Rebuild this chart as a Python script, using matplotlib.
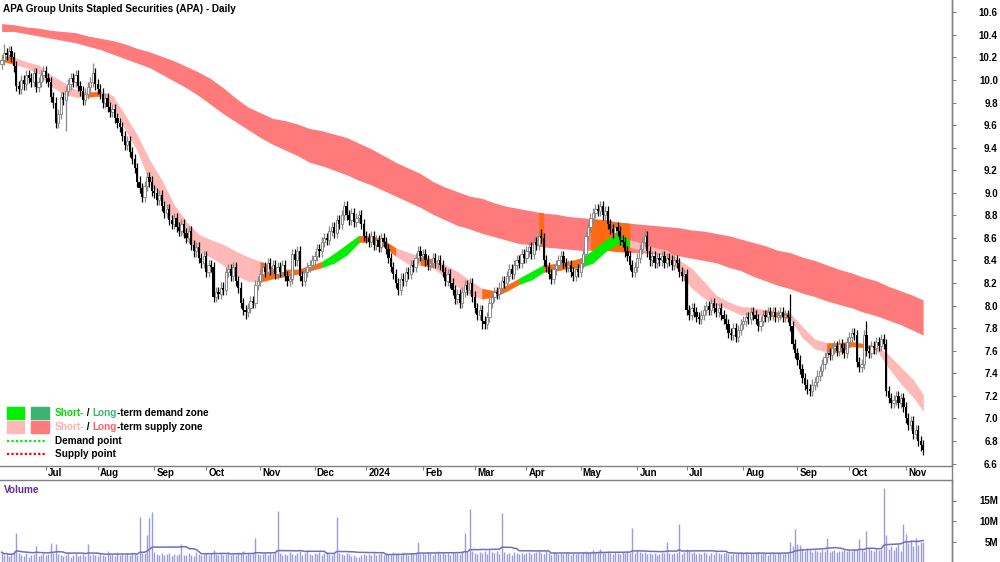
import matplotlib
matplotlib.use("Agg")
import matplotlib.pyplot as plt
import matplotlib.transforms as mtransforms
from matplotlib.patches import Rectangle
import numpy as np
import pandas as pd

plt.rcParams['font.family'] = ['Liberation Sans', 'DejaVu Sans']
plt.rcParams['font.weight'] = 'bold'

title = 'APA Group Units Stapled Securities (APA) - Daily'

# trading days shown on the chart
dates = pd.bdate_range('2023-06-07', '2024-11-12')

# daily closes, month by month
jun23 = [10.18, 10.24, 10.22, 10.26, 10.20, 10.12, 9.95, 9.92, 10.00, 9.96, 10.04, 10.02, 9.98, 10.06, 9.94, 9.98, 10.04, 10.08]
jul23 = [10.02, 9.98, 9.85, 9.80, 9.62, 9.70, 9.85, 9.82, 9.90, 9.96, 10.02, 9.98, 10.04, 9.95, 9.90, 9.82, 9.88, 9.94, 9.98, 10.06, 9.96]
aug23 = [9.92, 9.88, 9.80, 9.84, 9.76, 9.72, 9.74, 9.66, 9.62, 9.58, 9.50, 9.42, 9.46, 9.36, 9.30, 9.22, 9.10, 9.04, 8.96, 9.06, 9.14, 9.10, 9.02]
sep23 = [9.00, 8.94, 8.98, 8.88, 8.82, 8.86, 8.76, 8.72, 8.78, 8.70, 8.66, 8.72, 8.64, 8.60, 8.66, 8.54, 8.48, 8.52, 8.42, 8.38, 8.44]
oct23 = [8.30, 8.36, 8.34, 8.08, 8.12, 8.10, 8.16, 8.14, 8.30, 8.32, 8.26, 8.34, 8.22, 8.16, 8.02, 7.96, 7.94, 7.98, 8.04, 8.02, 8.18, 8.22]
nov23 = [8.28, 8.34, 8.30, 8.38, 8.32, 8.36, 8.28, 8.34, 8.30, 8.36, 8.26, 8.22, 8.24, 8.46, 8.40, 8.48, 8.26, 8.22, 8.30, 8.34, 8.36, 8.40]
dec23 = [8.44, 8.50, 8.48, 8.56, 8.60, 8.58, 8.66, 8.70, 8.64, 8.76, 8.72, 8.80, 8.88, 8.80, 8.76, 8.82, 8.74, 8.78, 8.80, 8.72, 8.62]
jan24 = [8.60, 8.56, 8.62, 8.54, 8.58, 8.52, 8.60, 8.56, 8.50, 8.42, 8.34, 8.28, 8.20, 8.14, 8.24, 8.22, 8.30, 8.28, 8.36, 8.34, 8.42, 8.48, 8.44]
feb24 = [8.46, 8.40, 8.36, 8.38, 8.42, 8.38, 8.40, 8.36, 8.30, 8.22, 8.28, 8.20, 8.14, 8.06, 8.10, 8.02, 8.12, 8.18, 8.14, 8.20, 8.08]
mar24 = [7.98, 7.92, 7.96, 7.86, 7.84, 7.90, 8.02, 8.08, 8.12, 8.10, 8.16, 8.22, 8.20, 8.26, 8.32, 8.28, 8.36, 8.40, 8.38, 8.46, 8.42]
apr24 = [8.48, 8.52, 8.46, 8.56, 8.54, 8.62, 8.60, 8.40, 8.34, 8.28, 8.24, 8.32, 8.36, 8.40, 8.44, 8.38, 8.34, 8.36, 8.30, 8.26, 8.32, 8.30]
may24 = [8.38, 8.46, 8.62, 8.70, 8.78, 8.82, 8.86, 8.84, 8.88, 8.80, 8.84, 8.72, 8.68, 8.64, 8.70, 8.66, 8.58, 8.56, 8.48, 8.44, 8.36, 8.30, 8.34]
jun24 = [8.42, 8.50, 8.56, 8.62, 8.48, 8.40, 8.44, 8.38, 8.42, 8.40, 8.44, 8.38, 8.42, 8.40, 8.36, 8.40, 8.38, 8.30, 8.26, 8.28]
jul24 = [7.96, 7.92, 7.98, 7.94, 7.90, 7.88, 7.92, 7.96, 8.00, 7.96, 8.02, 7.98, 7.94, 7.98, 7.92, 7.88, 7.84, 7.76, 7.74, 7.80, 7.72, 7.78, 7.84]
aug24 = [7.86, 7.90, 7.88, 7.94, 7.92, 7.88, 7.82, 7.86, 7.92, 7.90, 7.94, 7.92, 7.94, 7.90, 7.92, 7.94, 7.90, 7.92, 7.90, 7.82, 7.66, 7.58]
sep24 = [7.52, 7.44, 7.36, 7.30, 7.26, 7.24, 7.30, 7.32, 7.38, 7.42, 7.48, 7.54, 7.58, 7.56, 7.62, 7.64, 7.60, 7.66, 7.62, 7.58, 7.68]
oct24 = [7.72, 7.76, 7.74, 7.50, 7.46, 7.48, 7.74, 7.60, 7.58, 7.64, 7.62, 7.68, 7.64, 7.70, 7.66, 7.24, 7.18, 7.14, 7.16, 7.20, 7.14, 7.18, 7.10]
nov24 = [7.00, 6.94, 6.98, 6.86, 6.90, 6.80, 6.76, 6.72]

# notable wicks
high_marks = {'2023-06-08': 10.32, '2023-07-28': 10.15, '2023-12-19': 8.92, '2024-04-09': 8.68,
              '2024-05-13': 8.92, '2024-06-06': 8.68, '2024-08-28': 8.10, '2024-10-10': 7.86}
low_marks = {'2023-07-13': 9.55, '2023-10-24': 7.88, '2024-03-06': 7.79, '2024-09-09': 7.20,
             '2024-11-12': 6.68}

# daily volume, millions
vol_jun23 = [2.4, 1.6, 2.2, 1.4, 1.9, 2.6, 7.0, 2.1, 1.7, 1.5, 2.3, 1.3, 1.8, 2.0, 4.0, 1.5, 1.7, 2.1]
vol_jul23 = [1.6, 1.9, 4.6, 2.2, 4.3, 2.0, 1.6, 1.4, 1.8, 2.4, 1.3, 1.7, 2.1, 1.5, 1.8, 1.9, 1.4, 4.4, 1.6, 2.0, 1.7]
vol_aug23 = [1.5, 2.2, 1.8, 1.4, 2.7, 1.6, 2.0, 1.5, 2.4, 1.7, 1.9, 1.6, 2.1, 1.8, 2.5, 2.0, 1.8, 11.0, 2.1, 2.2, 6.6, 10.7, 12.2]
vol_sep23 = [2.5, 2.0, 1.8, 2.3, 1.7, 1.9, 2.2, 1.5, 2.0, 1.8, 1.9, 4.5, 1.7, 1.6, 2.1, 1.8, 1.5, 2.4, 2.0, 1.7, 1.9]
vol_oct23 = [2.3, 1.8, 2.1, 2.9, 2.0, 1.7, 2.2, 1.6, 1.9, 2.5, 1.8, 2.0, 1.7, 2.4, 2.1, 2.6, 1.8, 2.2, 1.9, 2.3, 5.8, 2.0]
vol_nov23 = [1.8, 2.0, 2.3, 1.7, 2.1, 1.9, 2.5, 12.4, 2.2, 1.7, 2.0, 1.8, 2.4, 1.9, 1.6, 2.2, 2.8, 1.7, 2.1, 3.0, 1.9, 1.8]
vol_dec23 = [2.2, 1.9, 2.5, 1.7, 2.1, 2.4, 2.0, 1.8, 2.3, 11.0, 2.1, 1.9, 1.6, 2.2, 2.0, 1.5, 1.8, 1.3, 1.1, 1.7, 1.9]
vol_jan24 = [1.6, 2.0, 1.8, 2.2, 1.7, 1.9, 2.1, 1.8, 2.3, 2.0, 1.7, 2.5, 1.9, 2.2, 1.8, 2.4, 2.0, 1.7, 2.3, 1.9, 2.1, 4.9, 2.0]
vol_feb24 = [2.2, 1.9, 2.5, 2.1, 1.8, 2.3, 2.7, 2.0, 2.4, 1.9, 2.2, 1.8, 2.5, 2.1, 2.3, 2.0, 2.6, 7.0, 2.4, 13.0, 2.7]
vol_mar24 = [2.3, 2.0, 2.5, 2.2, 2.8, 2.0, 2.9, 2.4, 2.1, 2.6, 1.9, 12.0, 2.5, 2.0, 2.2, 1.8, 2.4, 2.1, 1.9, 2.3, 2.0]
vol_apr24 = [2.1, 2.4, 1.9, 2.2, 2.5, 2.8, 2.3, 2.0, 2.6, 2.1, 1.8, 2.4, 2.2, 1.9, 2.3, 2.0, 2.5, 2.1, 1.8, 2.2, 1.9, 2.3]
vol_may24 = [2.0, 2.4, 2.7, 2.2, 2.5, 3.0, 2.3, 2.8, 3.2, 2.4, 2.1, 2.6, 2.3, 2.0, 2.5, 2.2, 1.9, 2.4, 2.1, 2.7, 2.2, 8.2, 2.3]
vol_jun24 = [2.9, 2.4, 2.1, 2.5, 2.0, 2.3, 1.9, 2.2, 1.8, 2.0, 2.4, 2.1, 5.0, 2.2, 1.9, 2.3, 2.1, 9.2, 2.0, 2.5]
vol_jul24 = [3.2, 2.7, 2.3, 2.5, 2.0, 2.2, 1.9, 2.4, 2.1, 1.8, 2.3, 2.0, 2.5, 2.2, 1.9, 2.1, 2.4, 2.0, 1.7, 2.3, 1.9, 2.2, 2.5]
vol_aug24 = [2.1, 2.4, 2.0, 2.3, 1.9, 2.2, 2.5, 2.0, 2.3, 2.1, 1.8, 2.2, 2.4, 1.9, 2.1, 2.3, 2.0, 2.5, 2.2, 5.0, 3.8, 8.0]
vol_sep24 = [4.4, 4.2, 3.1, 2.6, 3.3, 2.9, 2.5, 3.0, 2.7, 2.4, 2.9, 2.6, 5.8, 2.4, 2.7, 3.0, 2.5, 2.8, 2.6, 2.9, 2.7]
vol_oct24 = [3.0, 2.7, 3.2, 2.9, 5.7, 3.1, 2.6, 7.5, 3.3, 3.0, 2.7, 3.3, 2.9, 3.1, 18.1, 6.5, 3.2, 4.0, 3.0, 3.6, 4.4, 2.8, 9.2]
vol_nov24 = [6.9, 4.6, 5.3, 3.9, 5.9, 4.2, 4.8, 5.0]

# zone bands, read every 5th trading day
band_pos = list(range(0, 375, 5)) + [374]
long_top = [10.50, 10.49, 10.47, 10.46, 10.44, 10.43, 10.42, 10.39, 10.37, 10.35,
            10.32, 10.28, 10.25, 10.21, 10.17, 10.12, 10.07, 10.01, 9.93, 9.84,
            9.76, 9.71, 9.66, 9.64, 9.61, 9.57, 9.55, 9.52, 9.49, 9.44,
            9.39, 9.33, 9.27, 9.22, 9.17, 9.10, 9.05, 9.01, 8.97, 8.95,
            8.91, 8.88, 8.86, 8.84, 8.82, 8.81, 8.79, 8.78, 8.77, 8.76,
            8.74, 8.73, 8.72, 8.71, 8.70, 8.69, 8.67, 8.66, 8.64, 8.62,
            8.59, 8.56, 8.53, 8.49, 8.47, 8.43, 8.40, 8.36, 8.32, 8.29,
            8.25, 8.22, 8.17, 8.13, 8.09, 8.05]
long_bot = [10.43, 10.43, 10.41, 10.39, 10.37, 10.35, 10.33, 10.30, 10.27, 10.23,
            10.19, 10.15, 10.11, 10.05, 9.99, 9.93, 9.86, 9.78, 9.70, 9.63,
            9.56, 9.49, 9.43, 9.38, 9.33, 9.27, 9.24, 9.20, 9.16, 9.11,
            9.07, 9.02, 8.97, 8.92, 8.87, 8.81, 8.76, 8.71, 8.68, 8.64,
            8.61, 8.58, 8.55, 8.54, 8.52, 8.51, 8.50, 8.49, 8.49, 8.49,
            8.48, 8.47, 8.47, 8.46, 8.46, 8.44, 8.42, 8.40, 8.38, 8.34,
            8.31, 8.26, 8.22, 8.18, 8.15, 8.11, 8.08, 8.04, 8.01, 7.98,
            7.94, 7.91, 7.87, 7.83, 7.78, 7.74]
short_top = [10.22, 10.20, 10.16, 10.13, 10.04, 9.98, 9.91, 9.89, 9.90, 9.86,
             9.69, 9.51, 9.29, 9.11, 8.89, 8.74, 8.63, 8.58, 8.54, 8.48,
             8.43, 8.39, 8.34, 8.32, 8.32, 8.35, 8.39, 8.46, 8.54, 8.62,
             8.62, 8.58, 8.51, 8.47, 8.43, 8.41, 8.36, 8.30, 8.22, 8.15,
             8.13, 8.18, 8.24, 8.30, 8.36, 8.37, 8.39, 8.42, 8.49, 8.58,
             8.64, 8.58, 8.55, 8.51, 8.49, 8.40, 8.33, 8.21, 8.09, 8.03,
             7.99, 7.98, 7.96, 7.94, 7.93, 7.81, 7.70, 7.67, 7.67, 7.68,
             7.66, 7.64, 7.56, 7.45, 7.34, 7.21]
short_bot = [10.17, 10.14, 10.11, 10.06, 9.95, 9.88, 9.85, 9.85, 9.86, 9.79,
             9.57, 9.38, 9.11, 8.95, 8.74, 8.58, 8.48, 8.43, 8.36, 8.27,
             8.22, 8.21, 8.24, 8.26, 8.28, 8.31, 8.34, 8.38, 8.45, 8.56,
             8.57, 8.53, 8.44, 8.37, 8.36, 8.34, 8.25, 8.17, 8.10, 8.06,
             8.08, 8.13, 8.19, 8.23, 8.30, 8.31, 8.33, 8.34, 8.38, 8.48,
             8.55, 8.52, 8.49, 8.47, 8.44, 8.30, 8.16, 8.07, 8.01, 7.97,
             7.92, 7.92, 7.91, 7.90, 7.89, 7.72, 7.62, 7.59, 7.59, 7.64,
             7.63, 7.61, 7.45, 7.31, 7.19, 7.07]
# S = short-term supply, O = overlap, D = short-term demand
short_state = ("O" + "SSSSSS" + "O" + "SSSSSSSSSSSSS" + "OOOOO" + "DDD" + "OOO" + "SS" + "O"
               + "SSSS" + "OOO" + "DD" + "OOO" + "DDDD" + "SSSSSSSSSSS" + "OO" + "SSS" + "OOOO" + "SSSSS")
long_overlap = [('2024-04-08', '2024-04-10'), ('2024-05-07', '2024-05-29')]

price_ticks = np.round(np.arange(6.6, 10.61, 0.2), 1)
vol_ticks = [5, 10, 15]

closes = np.array(jun23 + jul23 + aug23 + sep23 + oct23 + nov23 + dec23 + jan24 + feb24
                  + mar24 + apr24 + may24 + jun24 + jul24 + aug24 + sep24 + oct24 + nov24)
volume = np.array(vol_jun23 + vol_jul23 + vol_aug23 + vol_sep23 + vol_oct23 + vol_nov23
                  + vol_dec23 + vol_jan24 + vol_feb24 + vol_mar24 + vol_apr24 + vol_may24
                  + vol_jun24 + vol_jul24 + vol_aug24 + vol_sep24 + vol_oct24 + vol_nov24)
n = min(len(dates), len(closes), len(volume))
dates, closes, volume = dates[:n], closes[:n], volume[:n]
x = np.arange(n)

opens = np.concatenate([[closes[0] - 0.04], closes[:-1]])
highs = np.maximum(opens, closes) + 0.045
lows = np.minimum(opens, closes) - 0.045
date_pos = {d.strftime('%Y-%m-%d'): i for i, d in enumerate(dates)}
for d, v in high_marks.items():
    if d in date_pos:
        highs[date_pos[d]] = max(highs[date_pos[d]], v)
for d, v in low_marks.items():
    if d in date_pos:
        lows[date_pos[d]] = min(lows[date_pos[d]], v)

W, H = 1000, 562
fig = plt.figure(figsize=(W / 100, H / 100), dpi=100)
right = 952 / W
ax = fig.add_axes([0, (H - 466) / H, right, 466 / H])
axv = fig.add_axes([0, 0, right, 82 / H])
over = fig.add_axes([0, 0, 1, 1], zorder=10)
over.set_xlim(0, W)
over.set_ylim(H, 0)
over.axis('off')

grey = '#808080'
xlim = (-0.65, -0.65 + 952 / 2.464)

# long-term zone
bx = np.array(band_pos)
ax.fill_between(bx, long_bot, long_top, color='#ff7b7b', lw=0, zorder=1)
for a, b in long_overlap:
    i0, i1 = date_pos.get(a, 0), date_pos.get(b, 0)
    xs = np.arange(i0, i1 + 1)
    ax.fill_between(xs, np.interp(xs, bx, long_bot), np.interp(xs, bx, long_top),
                    color='#ff6a13', lw=0, zorder=1.5)

# short-term zone
state_col = {'S': '#ffb8b8', 'O': '#ff6a13', 'D': '#00ee00'}
for k in range(len(bx) - 1):
    c = state_col[short_state[k]]
    ax.fill_between(bx[k:k + 2], short_bot[k:k + 2], short_top[k:k + 2],
                    color=c, lw=0.4, edgecolor=c, zorder=2)

# candles
up = closes >= opens
blo = np.minimum(opens, closes)
bh = np.maximum(np.abs(closes - opens), 0.012)
ax.vlines(x[up], lows[up], highs[up], color='#8a8a8a', lw=0.9, zorder=3)
ax.vlines(x[~up], lows[~up], highs[~up], color='black', lw=0.9, zorder=3)
ax.bar(x[up], bh[up], bottom=blo[up], width=0.9, facecolor='white', edgecolor='#8a8a8a', lw=0.7, zorder=4)
ax.bar(x[~up], bh[~up], bottom=blo[~up], width=0.9, color='black', lw=0, zorder=4)

ax.set_xlim(*xlim)
ax.set_ylim(6.578, 10.709)
ax.yaxis.tick_right()
ax.set_yticks(price_ticks)
ax.set_yticklabels([f'{v:.1f}' for v in price_ticks])
ax.tick_params(axis='y', direction='out', length=3, color=grey, pad=30, labelsize=7)
for lab in ax.get_yticklabels():
    lab.set_horizontalalignment('right')
    lab.set_fontweight('bold')

# month ticks
month_pos, month_lab = [], []
prev = None
for i, d in enumerate(dates):
    if prev is not None and d.month != prev:
        month_pos.append(i)
        month_lab.append(str(d.year) if d.month == 1 else d.strftime('%b'))
    prev = d.month
ax.set_xticks(month_pos)
ax.set_xticklabels([])
ax.tick_params(axis='x', direction='out', length=3, color=grey)
trans = mtransforms.blended_transform_factory(ax.transData, ax.transAxes)
for p, lab in zip(month_pos, month_lab):
    ax.text(p + 0.9, -0.016, lab, transform=trans, ha='left', va='center',
            fontsize=7, fontweight='bold', clip_on=False)

for s in ['top', 'left']:
    ax.spines[s].set_visible(False)
for s in ['bottom', 'right']:
    ax.spines[s].set_color(grey)
    ax.spines[s].set_linewidth(1)

# volume panel
vcol = '#9c9cdc'
axv.vlines(x, 0, volume, color=vcol, lw=1.0)
vavg = pd.Series(volume).rolling(20, min_periods=1).mean()
axv.plot(x, vavg, color='#6e6ec4', lw=1.1)
axv.set_xlim(*xlim)
axv.set_ylim(0, 20)
axv.yaxis.tick_right()
axv.set_yticks(vol_ticks)
axv.set_yticklabels([f'{v}M' for v in vol_ticks])
axv.tick_params(axis='y', direction='out', length=3, color=grey, pad=30, labelsize=7)
for lab in axv.get_yticklabels():
    lab.set_horizontalalignment('right')
    lab.set_fontweight('bold')
axv.set_xticks([])
for s in ['bottom', 'left']:
    axv.spines[s].set_visible(False)
for s in ['top', 'right']:
    axv.spines[s].set_color(grey)
    axv.spines[s].set_linewidth(1)

over.plot([952, 952], [0, H], color=grey, lw=1)

# title and labels
over.text(3, 9, title, fontsize=7.2, fontweight='bold', va='center', ha='left')
over.text(4, 490, 'Volume', fontsize=7.2, fontweight='bold', va='center', ha='left', color='#5e2d91')

# legend
fig.canvas.draw()
renderer = fig.canvas.get_renderer()


def pieces(x0, y0, parts):
    xx = x0
    for txt, col in parts:
        t = over.text(xx, y0, txt, fontsize=7.2, fontweight='bold', va='center', ha='left', color=col)
        xx += t.get_window_extent(renderer).width


over.add_patch(Rectangle((7, 407), 17, 12, color='#00ee00'))
over.add_patch(Rectangle((31, 407), 18, 12, color='#3cb371'))
over.add_patch(Rectangle((7, 421), 17, 12, color='#ffb8b8'))
over.add_patch(Rectangle((31, 421), 18, 12, color='#ff7b7b'))
over.plot([7, 45], [441, 441], color='#00ee00', lw=1.6, ls=(0, (1, 1)))
over.plot([7, 45], [454, 454], color='#ff0000', lw=1.6, ls=(0, (1, 1)))
pieces(55, 413, [('Short-', '#00dd00'), (' / ', 'black'), ('Long', '#3cb371'), ('-term demand zone', 'black')])
pieces(55, 427, [('Short-', '#ffb0b0'), (' / ', 'black'), ('Long', '#ff6060'), ('-term supply zone', 'black')])
pieces(55, 441, [('Demand point', 'black')])
pieces(55, 454, [('Supply point', 'black')])

fig.savefig('out.png', dpi=100)
